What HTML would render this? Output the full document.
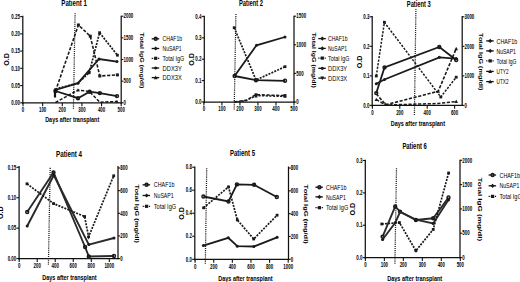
<!DOCTYPE html>
<html><head><meta charset="utf-8"><style>
html,body{margin:0;padding:0;background:#fff;}
svg{display:block;font-family:"Liberation Sans", sans-serif;}
</style></head><body>
<svg width="520" height="282" viewBox="0 0 520 282">
<rect width="520" height="282" fill="#fff"/>
<line x1="22.8" y1="15.8" x2="22.8" y2="104.0" stroke="#111" stroke-width="1.25" stroke-linecap="butt"/>
<line x1="20.2" y1="102.8" x2="22.8" y2="102.8" stroke="#111" stroke-width="1.1" stroke-linecap="butt"/>
<text x="20.0" y="105.0" font-size="6.6" text-anchor="end" font-weight="bold" fill="#000" textLength="8.65" lengthAdjust="spacingAndGlyphs" >0.00</text>
<line x1="20.2" y1="85.56" x2="22.8" y2="85.56" stroke="#111" stroke-width="1.1" stroke-linecap="butt"/>
<text x="20.0" y="87.76" font-size="6.6" text-anchor="end" font-weight="bold" fill="#000" textLength="8.65" lengthAdjust="spacingAndGlyphs" >0.05</text>
<line x1="20.2" y1="68.32" x2="22.8" y2="68.32" stroke="#111" stroke-width="1.1" stroke-linecap="butt"/>
<text x="20.0" y="70.52" font-size="6.6" text-anchor="end" font-weight="bold" fill="#000" textLength="8.65" lengthAdjust="spacingAndGlyphs" >0.10</text>
<line x1="20.2" y1="51.08" x2="22.8" y2="51.08" stroke="#111" stroke-width="1.1" stroke-linecap="butt"/>
<text x="20.0" y="53.28" font-size="6.6" text-anchor="end" font-weight="bold" fill="#000" textLength="8.65" lengthAdjust="spacingAndGlyphs" >0.15</text>
<line x1="20.2" y1="33.84" x2="22.8" y2="33.84" stroke="#111" stroke-width="1.1" stroke-linecap="butt"/>
<text x="20.0" y="36.04" font-size="6.6" text-anchor="end" font-weight="bold" fill="#000" textLength="8.65" lengthAdjust="spacingAndGlyphs" >0.20</text>
<line x1="20.2" y1="16.6" x2="22.8" y2="16.6" stroke="#111" stroke-width="1.1" stroke-linecap="butt"/>
<text x="20.0" y="18.8" font-size="6.6" text-anchor="end" font-weight="bold" fill="#000" textLength="8.65" lengthAdjust="spacingAndGlyphs" >0.25</text>
<line x1="22.2" y1="102.8" x2="121.8" y2="102.8" stroke="#111" stroke-width="1.25" stroke-linecap="butt"/>
<line x1="23.0" y1="102.8" x2="23.0" y2="106.2" stroke="#111" stroke-width="1.1" stroke-linecap="butt"/>
<text x="23.0" y="112.0" font-size="6.6" text-anchor="middle" font-weight="bold" fill="#000" textLength="2.45" lengthAdjust="spacingAndGlyphs" >0</text>
<line x1="42.64" y1="102.8" x2="42.64" y2="106.2" stroke="#111" stroke-width="1.1" stroke-linecap="butt"/>
<text x="42.64" y="112.0" font-size="6.6" text-anchor="middle" font-weight="bold" fill="#000" textLength="7.35" lengthAdjust="spacingAndGlyphs" >100</text>
<line x1="62.28" y1="102.8" x2="62.28" y2="106.2" stroke="#111" stroke-width="1.1" stroke-linecap="butt"/>
<text x="62.28" y="112.0" font-size="6.6" text-anchor="middle" font-weight="bold" fill="#000" textLength="7.35" lengthAdjust="spacingAndGlyphs" >200</text>
<line x1="81.92" y1="102.8" x2="81.92" y2="106.2" stroke="#111" stroke-width="1.1" stroke-linecap="butt"/>
<text x="81.92" y="112.0" font-size="6.6" text-anchor="middle" font-weight="bold" fill="#000" textLength="7.35" lengthAdjust="spacingAndGlyphs" >300</text>
<line x1="101.56" y1="102.8" x2="101.56" y2="106.2" stroke="#111" stroke-width="1.1" stroke-linecap="butt"/>
<text x="101.56" y="112.0" font-size="6.6" text-anchor="middle" font-weight="bold" fill="#000" textLength="7.35" lengthAdjust="spacingAndGlyphs" >400</text>
<line x1="121.2" y1="102.8" x2="121.2" y2="106.2" stroke="#111" stroke-width="1.1" stroke-linecap="butt"/>
<text x="121.2" y="112.0" font-size="6.6" text-anchor="middle" font-weight="bold" fill="#000" textLength="7.35" lengthAdjust="spacingAndGlyphs" >500</text>
<line x1="121.2" y1="15.8" x2="121.2" y2="103.4" stroke="#111" stroke-width="1.25" stroke-linecap="butt"/>
<line x1="121.2" y1="102.8" x2="123.4" y2="102.8" stroke="#111" stroke-width="1.1" stroke-linecap="butt"/>
<text x="123.5" y="105.0" font-size="6.6" text-anchor="start" font-weight="bold" fill="#000" textLength="2.45" lengthAdjust="spacingAndGlyphs" >0</text>
<line x1="121.2" y1="81.15" x2="123.4" y2="81.15" stroke="#111" stroke-width="1.1" stroke-linecap="butt"/>
<text x="123.5" y="83.35" font-size="6.6" text-anchor="start" font-weight="bold" fill="#000" textLength="7.35" lengthAdjust="spacingAndGlyphs" >500</text>
<line x1="121.2" y1="59.5" x2="123.4" y2="59.5" stroke="#111" stroke-width="1.1" stroke-linecap="butt"/>
<text x="123.5" y="61.7" font-size="6.6" text-anchor="start" font-weight="bold" fill="#000" textLength="9.8" lengthAdjust="spacingAndGlyphs" >1000</text>
<line x1="121.2" y1="37.85" x2="123.4" y2="37.85" stroke="#111" stroke-width="1.1" stroke-linecap="butt"/>
<text x="123.5" y="40.05" font-size="6.6" text-anchor="start" font-weight="bold" fill="#000" textLength="9.8" lengthAdjust="spacingAndGlyphs" >1500</text>
<line x1="121.2" y1="16.2" x2="123.4" y2="16.2" stroke="#111" stroke-width="1.1" stroke-linecap="butt"/>
<text x="123.5" y="18.4" font-size="6.6" text-anchor="start" font-weight="bold" fill="#000" textLength="9.8" lengthAdjust="spacingAndGlyphs" >2000</text>
<line x1="75.1" y1="13.2" x2="73.4" y2="109.3" stroke="#1a1a1a" stroke-width="1.25" stroke-linecap="butt" stroke-dasharray="1.1 1"/>
<text x="74.1" y="5.5" font-size="8.2" text-anchor="middle" font-weight="bold" fill="#000" textLength="25.5" lengthAdjust="spacingAndGlyphs" >Patient 1</text>
<text x="72.2" y="122.2" font-size="7.6" text-anchor="middle" font-weight="bold" fill="#000" textLength="54" lengthAdjust="spacingAndGlyphs" >Days after transplant</text>
<text x="9.2" y="59.5" font-size="7" text-anchor="middle" font-weight="bold" fill="#000" textLength="12.6" lengthAdjust="spacingAndGlyphs" transform="rotate(-90 9.2 59.5)" >O.D</text>
<text x="140.4" y="60.5" font-size="5.7" text-anchor="middle" font-weight="bold" fill="#000" textLength="55.8" lengthAdjust="spacingAndGlyphs" transform="rotate(90 140.4 60.5)" >Total IgG (mg/dl)</text>
<line x1="151.7" y1="38.8" x2="159.2" y2="38.8" stroke="#111" stroke-width="1.3" stroke-linecap="butt"/>
<circle cx="155.7" cy="38.8" r="1.45" fill="none" stroke="#1a1a1a" stroke-width="1.5"/>
<text x="162.6" y="41.4" font-size="7.8" text-anchor="start" font-weight="normal" fill="#000" textLength="19.5" lengthAdjust="spacingAndGlyphs" >CHAF1b</text>
<line x1="151.7" y1="48.5" x2="159.2" y2="48.5" stroke="#111" stroke-width="1.3" stroke-linecap="butt"/>
<polygon points="155.7,46.42 157.78,48.5 155.7,50.58 153.61999999999998,48.5" fill="#1a1a1a"/>
<text x="162.6" y="51.1" font-size="7.8" text-anchor="start" font-weight="normal" fill="#000" textLength="19" lengthAdjust="spacingAndGlyphs" >NuSAP1</text>
<line x1="151.7" y1="58.3" x2="159.2" y2="58.3" stroke="#111" stroke-width="1.3" stroke-linecap="butt" stroke-dasharray="1.2 0.9"/>
<rect x="154.1" y="56.699999999999996" width="3.2" height="3.2" fill="#1a1a1a"/>
<text x="162.6" y="60.9" font-size="7.8" text-anchor="start" font-weight="normal" fill="#000" textLength="21.5" lengthAdjust="spacingAndGlyphs" >Total IgG</text>
<line x1="151.7" y1="68" x2="159.2" y2="68" stroke="#111" stroke-width="1.3" stroke-linecap="butt"/>
<circle cx="155.7" cy="68" r="1.6" fill="#1a1a1a"/>
<text x="162.6" y="70.6" font-size="7.8" text-anchor="start" font-weight="normal" fill="#000" textLength="19.2" lengthAdjust="spacingAndGlyphs" >DDX3Y</text>
<line x1="151.7" y1="77.6" x2="159.2" y2="77.6" stroke="#111" stroke-width="1.3" stroke-linecap="butt"/>
<polygon points="155.7,75.52 157.61999999999998,79.19999999999999 153.78,79.19999999999999" fill="#1a1a1a"/>
<text x="162.6" y="80.2" font-size="7.8" text-anchor="start" font-weight="normal" fill="#000" textLength="19.2" lengthAdjust="spacingAndGlyphs" >DDX3X</text>
<polyline points="55.5,91 78,98.2 89.6,91.7 99.8,93.1 117,96.1" fill="none" stroke="#1a1a1a" stroke-width="1.8" stroke-linejoin="miter"/>
<circle cx="55.5" cy="91" r="1.45" fill="none" stroke="#1a1a1a" stroke-width="1.5"/>
<circle cx="78" cy="98.2" r="1.45" fill="none" stroke="#1a1a1a" stroke-width="1.5"/>
<circle cx="89.6" cy="91.7" r="1.45" fill="none" stroke="#1a1a1a" stroke-width="1.5"/>
<circle cx="99.8" cy="93.1" r="1.45" fill="none" stroke="#1a1a1a" stroke-width="1.5"/>
<circle cx="117" cy="96.1" r="1.45" fill="none" stroke="#1a1a1a" stroke-width="1.5"/>
<polyline points="55.5,90 78,83.2 99,59 117,61.6" fill="none" stroke="#1a1a1a" stroke-width="1.8" stroke-linejoin="miter"/>
<circle cx="78" cy="83.2" r="1.5" fill="#1a1a1a"/>
<circle cx="99" cy="59" r="1.5" fill="#1a1a1a"/>
<circle cx="117" cy="61.6" r="1.5" fill="#1a1a1a"/>
<polyline points="55.5,89 78,83 89.2,72.7 99.6,32.7 117.4,55.2" fill="none" stroke="#1a1a1a" stroke-width="1.7" stroke-linejoin="miter" stroke-dasharray="2 1.2"/>
<rect x="87.8" y="71.3" width="2.8" height="2.8" fill="#1a1a1a"/>
<rect x="98.19999999999999" y="31.300000000000004" width="2.8" height="2.8" fill="#1a1a1a"/>
<rect x="116.0" y="53.800000000000004" width="2.8" height="2.8" fill="#1a1a1a"/>
<polyline points="55.5,91 78.4,25 90.3,36.2 99.8,76 117.4,74.9" fill="none" stroke="#1a1a1a" stroke-width="1.6" stroke-linejoin="miter" stroke-dasharray="3.2 1.6"/>
<rect x="76.9" y="23.5" width="3.0" height="3.0" fill="#1a1a1a"/>
<rect x="88.8" y="34.7" width="3.0" height="3.0" fill="#1a1a1a"/>
<rect x="98.3" y="74.5" width="3.0" height="3.0" fill="#1a1a1a"/>
<rect x="115.9" y="73.4" width="3.0" height="3.0" fill="#1a1a1a"/>
<polyline points="55.5,102.5 78,90 89.4,91.5 99.8,102.2 117,101.5" fill="none" stroke="#1a1a1a" stroke-width="1.5" stroke-linejoin="miter" stroke-dasharray="3.2 1.6"/>
<polygon points="78,88.18 79.68,91.4 76.32,91.4" fill="#1a1a1a"/>
<polygon points="117,99.68 118.68,102.9 115.32,102.9" fill="#1a1a1a"/>
<line x1="55" y1="88.5" x2="55" y2="97.5" stroke="#111" stroke-width="2.2" stroke-linecap="butt"/>
<line x1="204.3" y1="15.7" x2="204.3" y2="103.2" stroke="#111" stroke-width="1.25" stroke-linecap="butt"/>
<line x1="201.7" y1="102.0" x2="204.3" y2="102.0" stroke="#111" stroke-width="1.1" stroke-linecap="butt"/>
<text x="201.5" y="104.2" font-size="6.6" text-anchor="end" font-weight="bold" fill="#000" textLength="6.2" lengthAdjust="spacingAndGlyphs" >0.0</text>
<line x1="201.7" y1="80.6" x2="204.3" y2="80.6" stroke="#111" stroke-width="1.1" stroke-linecap="butt"/>
<text x="201.5" y="82.8" font-size="6.6" text-anchor="end" font-weight="bold" fill="#000" textLength="6.2" lengthAdjust="spacingAndGlyphs" >0.1</text>
<line x1="201.7" y1="59.2" x2="204.3" y2="59.2" stroke="#111" stroke-width="1.1" stroke-linecap="butt"/>
<text x="201.5" y="61.4" font-size="6.6" text-anchor="end" font-weight="bold" fill="#000" textLength="6.2" lengthAdjust="spacingAndGlyphs" >0.2</text>
<line x1="201.7" y1="37.8" x2="204.3" y2="37.8" stroke="#111" stroke-width="1.1" stroke-linecap="butt"/>
<text x="201.5" y="40.0" font-size="6.6" text-anchor="end" font-weight="bold" fill="#000" textLength="6.2" lengthAdjust="spacingAndGlyphs" >0.3</text>
<line x1="201.7" y1="16.4" x2="204.3" y2="16.4" stroke="#111" stroke-width="1.1" stroke-linecap="butt"/>
<text x="201.5" y="18.6" font-size="6.6" text-anchor="end" font-weight="bold" fill="#000" textLength="6.2" lengthAdjust="spacingAndGlyphs" >0.4</text>
<line x1="203.7" y1="102" x2="294.6" y2="102" stroke="#111" stroke-width="1.25" stroke-linecap="butt"/>
<line x1="203.9" y1="102" x2="203.9" y2="105.4" stroke="#111" stroke-width="1.1" stroke-linecap="butt"/>
<text x="203.9" y="111.2" font-size="6.6" text-anchor="middle" font-weight="bold" fill="#000" textLength="2.45" lengthAdjust="spacingAndGlyphs" >0</text>
<line x1="221.92" y1="102" x2="221.92" y2="105.4" stroke="#111" stroke-width="1.1" stroke-linecap="butt"/>
<text x="221.92" y="111.2" font-size="6.6" text-anchor="middle" font-weight="bold" fill="#000" textLength="7.35" lengthAdjust="spacingAndGlyphs" >100</text>
<line x1="239.94" y1="102" x2="239.94" y2="105.4" stroke="#111" stroke-width="1.1" stroke-linecap="butt"/>
<text x="239.94" y="111.2" font-size="6.6" text-anchor="middle" font-weight="bold" fill="#000" textLength="7.35" lengthAdjust="spacingAndGlyphs" >200</text>
<line x1="257.96" y1="102" x2="257.96" y2="105.4" stroke="#111" stroke-width="1.1" stroke-linecap="butt"/>
<text x="257.96" y="111.2" font-size="6.6" text-anchor="middle" font-weight="bold" fill="#000" textLength="7.35" lengthAdjust="spacingAndGlyphs" >300</text>
<line x1="275.98" y1="102" x2="275.98" y2="105.4" stroke="#111" stroke-width="1.1" stroke-linecap="butt"/>
<text x="275.98" y="111.2" font-size="6.6" text-anchor="middle" font-weight="bold" fill="#000" textLength="7.35" lengthAdjust="spacingAndGlyphs" >400</text>
<line x1="294.0" y1="102" x2="294.0" y2="105.4" stroke="#111" stroke-width="1.1" stroke-linecap="butt"/>
<text x="294.0" y="111.2" font-size="6.6" text-anchor="middle" font-weight="bold" fill="#000" textLength="7.35" lengthAdjust="spacingAndGlyphs" >500</text>
<line x1="294" y1="15.7" x2="294" y2="102.6" stroke="#111" stroke-width="1.25" stroke-linecap="butt"/>
<line x1="294" y1="102.0" x2="296.2" y2="102.0" stroke="#111" stroke-width="1.1" stroke-linecap="butt"/>
<text x="296.3" y="104.2" font-size="6.6" text-anchor="start" font-weight="bold" fill="#000" textLength="2.45" lengthAdjust="spacingAndGlyphs" >0</text>
<line x1="294" y1="73.4" x2="296.2" y2="73.4" stroke="#111" stroke-width="1.1" stroke-linecap="butt"/>
<text x="296.3" y="75.6" font-size="6.6" text-anchor="start" font-weight="bold" fill="#000" textLength="7.35" lengthAdjust="spacingAndGlyphs" >500</text>
<line x1="294" y1="44.8" x2="296.2" y2="44.8" stroke="#111" stroke-width="1.1" stroke-linecap="butt"/>
<text x="296.3" y="47.0" font-size="6.6" text-anchor="start" font-weight="bold" fill="#000" textLength="9.8" lengthAdjust="spacingAndGlyphs" >1000</text>
<line x1="294" y1="16.2" x2="296.2" y2="16.2" stroke="#111" stroke-width="1.1" stroke-linecap="butt"/>
<text x="296.3" y="18.4" font-size="6.6" text-anchor="start" font-weight="bold" fill="#000" textLength="9.8" lengthAdjust="spacingAndGlyphs" >1500</text>
<line x1="235.9" y1="14" x2="234.2" y2="110" stroke="#1a1a1a" stroke-width="1.25" stroke-linecap="butt" stroke-dasharray="1.1 1"/>
<text x="251" y="6.0" font-size="8.2" text-anchor="middle" font-weight="bold" fill="#000" textLength="24" lengthAdjust="spacingAndGlyphs" >Patient 2</text>
<text x="193.8" y="59.5" font-size="7" text-anchor="middle" font-weight="bold" fill="#000" textLength="12.6" lengthAdjust="spacingAndGlyphs" transform="rotate(-90 193.8 59.5)" >O.D</text>
<text x="312.2" y="60.25" font-size="5.7" text-anchor="middle" font-weight="bold" fill="#000" textLength="55.3" lengthAdjust="spacingAndGlyphs" transform="rotate(90 312.2 60.25)" >Total IgG (mg/dl)</text>
<line x1="318.3" y1="38.6" x2="325.8" y2="38.6" stroke="#111" stroke-width="1.3" stroke-linecap="butt"/>
<polygon points="322.3,36.52 324.38,38.6 322.3,40.68 320.22,38.6" fill="#1a1a1a"/>
<text x="328" y="41.2" font-size="7.8" text-anchor="start" font-weight="normal" fill="#000" textLength="19.5" lengthAdjust="spacingAndGlyphs" >CHAF1b</text>
<line x1="318.3" y1="48.4" x2="325.8" y2="48.4" stroke="#111" stroke-width="1.3" stroke-linecap="butt"/>
<polygon points="322.3,46.32 324.38,48.4 322.3,50.48 320.22,48.4" fill="#1a1a1a"/>
<text x="328" y="51.0" font-size="7.8" text-anchor="start" font-weight="normal" fill="#000" textLength="19" lengthAdjust="spacingAndGlyphs" >NuSAP1</text>
<line x1="318.3" y1="58.1" x2="325.8" y2="58.1" stroke="#111" stroke-width="1.3" stroke-linecap="butt" stroke-dasharray="1.2 0.9"/>
<rect x="320.7" y="56.5" width="3.2" height="3.2" fill="#1a1a1a"/>
<text x="328" y="60.7" font-size="7.8" text-anchor="start" font-weight="normal" fill="#000" textLength="21.5" lengthAdjust="spacingAndGlyphs" >Total IgG</text>
<line x1="318.3" y1="68.3" x2="325.8" y2="68.3" stroke="#111" stroke-width="1.3" stroke-linecap="butt"/>
<circle cx="322.3" cy="68.3" r="1.6" fill="#1a1a1a"/>
<text x="328" y="70.9" font-size="7.8" text-anchor="start" font-weight="normal" fill="#000" textLength="19.2" lengthAdjust="spacingAndGlyphs" >DDX3Y</text>
<line x1="318.3" y1="78.1" x2="325.8" y2="78.1" stroke="#111" stroke-width="1.3" stroke-linecap="butt"/>
<polygon points="322.3,80.17999999999999 324.22,76.5 320.38,76.5" fill="#1a1a1a"/>
<text x="328" y="80.7" font-size="7.8" text-anchor="start" font-weight="normal" fill="#000" textLength="19.2" lengthAdjust="spacingAndGlyphs" >DDX3X</text>
<polyline points="234.6,76 256,80.2 285,80.8" fill="none" stroke="#1a1a1a" stroke-width="1.8" stroke-linejoin="miter"/>
<circle cx="234.6" cy="76" r="1.45" fill="none" stroke="#1a1a1a" stroke-width="1.5"/>
<circle cx="256" cy="80.2" r="1.45" fill="none" stroke="#1a1a1a" stroke-width="1.5"/>
<circle cx="285" cy="80.8" r="1.45" fill="none" stroke="#1a1a1a" stroke-width="1.5"/>
<polyline points="234.6,76 256.5,45.3 285,37" fill="none" stroke="#1a1a1a" stroke-width="1.8" stroke-linejoin="miter"/>
<circle cx="256.5" cy="45.3" r="1.5" fill="#1a1a1a"/>
<circle cx="285" cy="37" r="1.5" fill="#1a1a1a"/>
<polyline points="234.2,27.7 256,80 285,66.7" fill="none" stroke="#1a1a1a" stroke-width="1.7" stroke-linejoin="miter" stroke-dasharray="2 1.2"/>
<rect x="232.79999999999998" y="26.3" width="2.8" height="2.8" fill="#1a1a1a"/>
<rect x="283.6" y="65.3" width="2.8" height="2.8" fill="#1a1a1a"/>
<polyline points="234.6,102 246,100.3 256,94.6 285,95.6" fill="none" stroke="#1a1a1a" stroke-width="1.5" stroke-linejoin="miter" stroke-dasharray="3.2 1.6"/>
<polyline points="234.6,102 246,100.8 256,95.6 285,96.4" fill="none" stroke="#1a1a1a" stroke-width="1.5" stroke-linejoin="miter" stroke-dasharray="2.2 1.4"/>
<rect x="254.5" y="93.3" width="3.0" height="3.0" fill="#1a1a1a"/>
<rect x="283.5" y="94.1" width="3.0" height="3.0" fill="#1a1a1a"/>
<polygon points="256,94.18 257.68,97.4 254.32,97.4" fill="#1a1a1a"/>
<polygon points="285,94.58000000000001 286.68,97.80000000000001 283.32,97.80000000000001" fill="#1a1a1a"/>
<line x1="372.2" y1="16.1" x2="372.2" y2="106.6" stroke="#111" stroke-width="1.25" stroke-linecap="butt"/>
<line x1="369.6" y1="105.4" x2="372.2" y2="105.4" stroke="#111" stroke-width="1.1" stroke-linecap="butt"/>
<text x="369.4" y="107.6" font-size="6.6" text-anchor="end" font-weight="bold" fill="#000" textLength="6.2" lengthAdjust="spacingAndGlyphs" >0.0</text>
<line x1="369.6" y1="75.87" x2="372.2" y2="75.87" stroke="#111" stroke-width="1.1" stroke-linecap="butt"/>
<text x="369.4" y="78.07" font-size="6.6" text-anchor="end" font-weight="bold" fill="#000" textLength="6.2" lengthAdjust="spacingAndGlyphs" >0.1</text>
<line x1="369.6" y1="46.33" x2="372.2" y2="46.33" stroke="#111" stroke-width="1.1" stroke-linecap="butt"/>
<text x="369.4" y="48.53" font-size="6.6" text-anchor="end" font-weight="bold" fill="#000" textLength="6.2" lengthAdjust="spacingAndGlyphs" >0.2</text>
<line x1="369.6" y1="16.8" x2="372.2" y2="16.8" stroke="#111" stroke-width="1.1" stroke-linecap="butt"/>
<text x="369.4" y="19.0" font-size="6.6" text-anchor="end" font-weight="bold" fill="#000" textLength="6.2" lengthAdjust="spacingAndGlyphs" >0.3</text>
<line x1="371.6" y1="105.4" x2="462.8" y2="105.4" stroke="#111" stroke-width="1.25" stroke-linecap="butt"/>
<line x1="372.4" y1="105.4" x2="372.4" y2="108.8" stroke="#111" stroke-width="1.1" stroke-linecap="butt"/>
<text x="372.4" y="114.6" font-size="6.6" text-anchor="middle" font-weight="bold" fill="#000" textLength="2.45" lengthAdjust="spacingAndGlyphs" >0</text>
<line x1="399.8" y1="105.4" x2="399.8" y2="108.8" stroke="#111" stroke-width="1.1" stroke-linecap="butt"/>
<text x="399.8" y="114.6" font-size="6.6" text-anchor="middle" font-weight="bold" fill="#000" textLength="7.35" lengthAdjust="spacingAndGlyphs" >200</text>
<line x1="427.2" y1="105.4" x2="427.2" y2="108.8" stroke="#111" stroke-width="1.1" stroke-linecap="butt"/>
<text x="427.2" y="114.6" font-size="6.6" text-anchor="middle" font-weight="bold" fill="#000" textLength="7.35" lengthAdjust="spacingAndGlyphs" >400</text>
<line x1="454.6" y1="105.4" x2="454.6" y2="108.8" stroke="#111" stroke-width="1.1" stroke-linecap="butt"/>
<text x="454.6" y="114.6" font-size="6.6" text-anchor="middle" font-weight="bold" fill="#000" textLength="7.35" lengthAdjust="spacingAndGlyphs" >600</text>
<line x1="462.2" y1="16.1" x2="462.2" y2="106.0" stroke="#111" stroke-width="1.25" stroke-linecap="butt"/>
<line x1="462.2" y1="105.4" x2="464.4" y2="105.4" stroke="#111" stroke-width="1.1" stroke-linecap="butt"/>
<text x="464.5" y="107.6" font-size="6.6" text-anchor="start" font-weight="bold" fill="#000" textLength="2.45" lengthAdjust="spacingAndGlyphs" >0</text>
<line x1="462.2" y1="75.87" x2="464.4" y2="75.87" stroke="#111" stroke-width="1.1" stroke-linecap="butt"/>
<text x="464.5" y="78.07" font-size="6.6" text-anchor="start" font-weight="bold" fill="#000" textLength="9.8" lengthAdjust="spacingAndGlyphs" >1000</text>
<line x1="462.2" y1="46.33" x2="464.4" y2="46.33" stroke="#111" stroke-width="1.1" stroke-linecap="butt"/>
<text x="464.5" y="48.53" font-size="6.6" text-anchor="start" font-weight="bold" fill="#000" textLength="9.8" lengthAdjust="spacingAndGlyphs" >2000</text>
<line x1="462.2" y1="16.8" x2="464.4" y2="16.8" stroke="#111" stroke-width="1.1" stroke-linecap="butt"/>
<text x="464.5" y="19.0" font-size="6.6" text-anchor="start" font-weight="bold" fill="#000" textLength="9.8" lengthAdjust="spacingAndGlyphs" >3000</text>
<line x1="415.9" y1="8.9" x2="414.4" y2="115.4" stroke="#1a1a1a" stroke-width="1.25" stroke-linecap="butt" stroke-dasharray="1.1 1"/>
<text x="418.8" y="6.8" font-size="8.2" text-anchor="middle" font-weight="bold" fill="#000" textLength="24" lengthAdjust="spacingAndGlyphs" >Patient 3</text>
<text x="417.9" y="126" font-size="7.6" text-anchor="middle" font-weight="bold" fill="#000" textLength="54.2" lengthAdjust="spacingAndGlyphs" >Days after transplant</text>
<text x="361.6" y="62" font-size="7" text-anchor="middle" font-weight="bold" fill="#000" textLength="12.6" lengthAdjust="spacingAndGlyphs" transform="rotate(-90 361.6 62)" >O.D</text>
<text x="479.2" y="61.7" font-size="5.7" text-anchor="middle" font-weight="bold" fill="#000" textLength="57.4" lengthAdjust="spacingAndGlyphs" transform="rotate(90 479.2 61.7)" >Total IgG (mg/dl)</text>
<line x1="486.2" y1="40.9" x2="493.7" y2="40.9" stroke="#111" stroke-width="1.3" stroke-linecap="butt"/>
<polygon points="490.2,38.82 492.28,40.9 490.2,42.98 488.12,40.9" fill="#1a1a1a"/>
<text x="496.5" y="43.5" font-size="7.8" text-anchor="start" font-weight="normal" fill="#000" textLength="20.8" lengthAdjust="spacingAndGlyphs" >CHAF1b</text>
<line x1="486.2" y1="50.9" x2="493.7" y2="50.9" stroke="#111" stroke-width="1.3" stroke-linecap="butt"/>
<polygon points="490.2,48.82 492.28,50.9 490.2,52.98 488.12,50.9" fill="#1a1a1a"/>
<text x="496.5" y="53.5" font-size="7.8" text-anchor="start" font-weight="normal" fill="#000" textLength="19.3" lengthAdjust="spacingAndGlyphs" >NuSAP1</text>
<line x1="486.2" y1="60.9" x2="493.7" y2="60.9" stroke="#111" stroke-width="1.3" stroke-linecap="butt" stroke-dasharray="1.2 0.9"/>
<rect x="488.59999999999997" y="59.3" width="3.2" height="3.2" fill="#1a1a1a"/>
<text x="496.5" y="63.5" font-size="7.8" text-anchor="start" font-weight="normal" fill="#000" textLength="20" lengthAdjust="spacingAndGlyphs" >Total IgG</text>
<line x1="486.2" y1="71.4" x2="493.7" y2="71.4" stroke="#111" stroke-width="1.3" stroke-linecap="butt"/>
<polygon points="490.2,69.32000000000001 492.12,73.0 488.28,73.0" fill="#1a1a1a"/>
<text x="496.5" y="74.0" font-size="7.8" text-anchor="start" font-weight="normal" fill="#000" textLength="12" lengthAdjust="spacingAndGlyphs" >UTY2</text>
<line x1="486.2" y1="81.6" x2="493.7" y2="81.6" stroke="#111" stroke-width="1.3" stroke-linecap="butt"/>
<polygon points="490.2,79.52 492.12,83.19999999999999 488.28,83.19999999999999" fill="#1a1a1a"/>
<text x="496.5" y="84.2" font-size="7.8" text-anchor="start" font-weight="normal" fill="#000" textLength="12" lengthAdjust="spacingAndGlyphs" >UTX2</text>
<polyline points="376.3,93.1 384.5,67.4 439.3,47 456.2,60" fill="none" stroke="#1a1a1a" stroke-width="1.8" stroke-linejoin="miter"/>
<circle cx="376.3" cy="93.1" r="1.45" fill="none" stroke="#1a1a1a" stroke-width="1.5"/>
<circle cx="384.5" cy="67.4" r="1.45" fill="none" stroke="#1a1a1a" stroke-width="1.5"/>
<circle cx="439.3" cy="47" r="1.45" fill="none" stroke="#1a1a1a" stroke-width="1.5"/>
<circle cx="456.2" cy="60" r="1.45" fill="none" stroke="#1a1a1a" stroke-width="1.5"/>
<polyline points="376.3,83.8 384.5,79.5 439.3,57.3 456.2,58.6" fill="none" stroke="#1a1a1a" stroke-width="1.8" stroke-linejoin="miter"/>
<circle cx="376.3" cy="83.8" r="1.5" fill="#1a1a1a"/>
<circle cx="384.5" cy="79.5" r="1.5" fill="#1a1a1a"/>
<circle cx="439.3" cy="57.3" r="1.5" fill="#1a1a1a"/>
<circle cx="456.2" cy="58.6" r="1.5" fill="#1a1a1a"/>
<polyline points="376.3,76 384.4,22.3 440.8,97 456.2,77.2" fill="none" stroke="#1a1a1a" stroke-width="1.5" stroke-linejoin="miter" stroke-dasharray="2.2 1.4"/>
<rect x="374.90000000000003" y="74.6" width="2.8" height="2.8" fill="#1a1a1a"/>
<rect x="383.0" y="20.900000000000002" width="2.8" height="2.8" fill="#1a1a1a"/>
<rect x="439.40000000000003" y="95.6" width="2.8" height="2.8" fill="#1a1a1a"/>
<rect x="454.8" y="75.8" width="2.8" height="2.8" fill="#1a1a1a"/>
<polyline points="376.3,93.8 385.7,104.8 438.2,91.3 456.2,48.7" fill="none" stroke="#1a1a1a" stroke-width="1.6" stroke-linejoin="miter" stroke-dasharray="3.2 1.6"/>
<polyline points="376.3,99.6 385.7,105 438.2,103.5 456.2,101.5" fill="none" stroke="#1a1a1a" stroke-width="1.5" stroke-linejoin="miter" stroke-dasharray="3.2 1.6"/>
<polygon points="376.3,97.64999999999999 378.1,101.1 374.5,101.1" fill="#1a1a1a"/>
<polygon points="385.7,102.25 387.5,105.7 383.9,105.7" fill="#1a1a1a"/>
<polygon points="438.2,89.35 440.0,92.8 436.4,92.8" fill="#1a1a1a"/>
<polygon points="456.2,46.75 458.0,50.2 454.4,50.2" fill="#1a1a1a"/>
<polygon points="456.2,99.55 458.0,103.0 454.4,103.0" fill="#1a1a1a"/>
<line x1="19.1" y1="166.1" x2="19.1" y2="259.8" stroke="#111" stroke-width="1.25" stroke-linecap="butt"/>
<line x1="16.5" y1="258.6" x2="19.1" y2="258.6" stroke="#111" stroke-width="1.1" stroke-linecap="butt"/>
<text x="16.3" y="260.8" font-size="6.6" text-anchor="end" font-weight="bold" fill="#000" textLength="8.65" lengthAdjust="spacingAndGlyphs" >0.00</text>
<line x1="16.5" y1="228.17" x2="19.1" y2="228.17" stroke="#111" stroke-width="1.1" stroke-linecap="butt"/>
<text x="16.3" y="230.37" font-size="6.6" text-anchor="end" font-weight="bold" fill="#000" textLength="8.65" lengthAdjust="spacingAndGlyphs" >0.05</text>
<line x1="16.5" y1="197.73" x2="19.1" y2="197.73" stroke="#111" stroke-width="1.1" stroke-linecap="butt"/>
<text x="16.3" y="199.93" font-size="6.6" text-anchor="end" font-weight="bold" fill="#000" textLength="8.65" lengthAdjust="spacingAndGlyphs" >0.10</text>
<line x1="16.5" y1="167.3" x2="19.1" y2="167.3" stroke="#111" stroke-width="1.1" stroke-linecap="butt"/>
<text x="16.3" y="169.5" font-size="6.6" text-anchor="end" font-weight="bold" fill="#000" textLength="8.65" lengthAdjust="spacingAndGlyphs" >0.15</text>
<line x1="18.5" y1="258.6" x2="118.6" y2="258.6" stroke="#111" stroke-width="1.25" stroke-linecap="butt"/>
<line x1="19.2" y1="258.6" x2="19.2" y2="262.0" stroke="#111" stroke-width="1.1" stroke-linecap="butt"/>
<text x="19.2" y="267.8" font-size="6.6" text-anchor="middle" font-weight="bold" fill="#000" textLength="2.45" lengthAdjust="spacingAndGlyphs" >0</text>
<line x1="37.22" y1="258.6" x2="37.22" y2="262.0" stroke="#111" stroke-width="1.1" stroke-linecap="butt"/>
<text x="37.22" y="267.8" font-size="6.6" text-anchor="middle" font-weight="bold" fill="#000" textLength="7.35" lengthAdjust="spacingAndGlyphs" >200</text>
<line x1="55.24" y1="258.6" x2="55.24" y2="262.0" stroke="#111" stroke-width="1.1" stroke-linecap="butt"/>
<text x="55.24" y="267.8" font-size="6.6" text-anchor="middle" font-weight="bold" fill="#000" textLength="7.35" lengthAdjust="spacingAndGlyphs" >400</text>
<line x1="73.26" y1="258.6" x2="73.26" y2="262.0" stroke="#111" stroke-width="1.1" stroke-linecap="butt"/>
<text x="73.26" y="267.8" font-size="6.6" text-anchor="middle" font-weight="bold" fill="#000" textLength="7.35" lengthAdjust="spacingAndGlyphs" >600</text>
<line x1="91.28" y1="258.6" x2="91.28" y2="262.0" stroke="#111" stroke-width="1.1" stroke-linecap="butt"/>
<text x="91.28" y="267.8" font-size="6.6" text-anchor="middle" font-weight="bold" fill="#000" textLength="7.35" lengthAdjust="spacingAndGlyphs" >800</text>
<line x1="109.3" y1="258.6" x2="109.3" y2="262.0" stroke="#111" stroke-width="1.1" stroke-linecap="butt"/>
<text x="109.3" y="267.8" font-size="6.6" text-anchor="middle" font-weight="bold" fill="#000" textLength="9.8" lengthAdjust="spacingAndGlyphs" >1000</text>
<line x1="118" y1="166.1" x2="118" y2="259.2" stroke="#111" stroke-width="1.25" stroke-linecap="butt"/>
<line x1="118" y1="258.6" x2="120.2" y2="258.6" stroke="#111" stroke-width="1.1" stroke-linecap="butt"/>
<text x="120.3" y="260.8" font-size="6.6" text-anchor="start" font-weight="bold" fill="#000" textLength="2.45" lengthAdjust="spacingAndGlyphs" >0</text>
<line x1="118" y1="235.95" x2="120.2" y2="235.95" stroke="#111" stroke-width="1.1" stroke-linecap="butt"/>
<text x="120.3" y="238.15" font-size="6.6" text-anchor="start" font-weight="bold" fill="#000" textLength="7.35" lengthAdjust="spacingAndGlyphs" >200</text>
<line x1="118" y1="213.3" x2="120.2" y2="213.3" stroke="#111" stroke-width="1.1" stroke-linecap="butt"/>
<text x="120.3" y="215.5" font-size="6.6" text-anchor="start" font-weight="bold" fill="#000" textLength="7.35" lengthAdjust="spacingAndGlyphs" >400</text>
<line x1="118" y1="190.65" x2="120.2" y2="190.65" stroke="#111" stroke-width="1.1" stroke-linecap="butt"/>
<text x="120.3" y="192.85" font-size="6.6" text-anchor="start" font-weight="bold" fill="#000" textLength="7.35" lengthAdjust="spacingAndGlyphs" >600</text>
<line x1="118" y1="168.0" x2="120.2" y2="168.0" stroke="#111" stroke-width="1.1" stroke-linecap="butt"/>
<text x="120.3" y="170.2" font-size="6.6" text-anchor="start" font-weight="bold" fill="#000" textLength="7.35" lengthAdjust="spacingAndGlyphs" >800</text>
<line x1="50.2" y1="167.8" x2="48.4" y2="265" stroke="#1a1a1a" stroke-width="1.25" stroke-linecap="butt" stroke-dasharray="1.1 1"/>
<text x="69.1" y="156.5" font-size="8.2" text-anchor="middle" font-weight="bold" fill="#000" textLength="26" lengthAdjust="spacingAndGlyphs" >Patient 4</text>
<text x="69.5" y="279.6" font-size="7.6" text-anchor="middle" font-weight="bold" fill="#000" textLength="54.3" lengthAdjust="spacingAndGlyphs" >Days after transplant</text>
<text x="3.4" y="212.8" font-size="7" text-anchor="middle" font-weight="bold" fill="#000" textLength="12.6" lengthAdjust="spacingAndGlyphs" transform="rotate(-90 3.4 212.8)" >O.D</text>
<text x="135.2" y="213.85" font-size="5.7" text-anchor="middle" font-weight="bold" fill="#000" textLength="58.5" lengthAdjust="spacingAndGlyphs" transform="rotate(90 135.2 213.85)" >Total IgG (mg/dl)</text>
<line x1="142.6" y1="184.8" x2="150.1" y2="184.8" stroke="#111" stroke-width="1.3" stroke-linecap="butt"/>
<circle cx="146.6" cy="184.8" r="1.45" fill="none" stroke="#1a1a1a" stroke-width="1.5"/>
<text x="153.8" y="187.4" font-size="7.8" text-anchor="start" font-weight="normal" fill="#000" textLength="20.6" lengthAdjust="spacingAndGlyphs" >CHAF1b</text>
<line x1="142.6" y1="195.5" x2="150.1" y2="195.5" stroke="#111" stroke-width="1.3" stroke-linecap="butt"/>
<polygon points="146.6,193.42 148.68,195.5 146.6,197.58 144.51999999999998,195.5" fill="#1a1a1a"/>
<text x="153.8" y="198.1" font-size="7.8" text-anchor="start" font-weight="normal" fill="#000" textLength="19.8" lengthAdjust="spacingAndGlyphs" >NuSAP1</text>
<line x1="142.6" y1="206.3" x2="150.1" y2="206.3" stroke="#111" stroke-width="1.3" stroke-linecap="butt" stroke-dasharray="1.2 0.9"/>
<rect x="145.0" y="204.70000000000002" width="3.2" height="3.2" fill="#1a1a1a"/>
<text x="153.8" y="208.9" font-size="7.8" text-anchor="start" font-weight="normal" fill="#000" textLength="22.3" lengthAdjust="spacingAndGlyphs" >Total IgG</text>
<polyline points="27.2,212 53.5,172.4 85.1,247 88.8,256.5 114,256" fill="none" stroke="#2a2a2a" stroke-width="1.9" stroke-linejoin="miter"/>
<circle cx="27.2" cy="212" r="1.45" fill="none" stroke="#1a1a1a" stroke-width="1.5"/>
<circle cx="53.5" cy="172.4" r="1.45" fill="none" stroke="#1a1a1a" stroke-width="1.5"/>
<circle cx="85.1" cy="247" r="1.45" fill="none" stroke="#1a1a1a" stroke-width="1.5"/>
<circle cx="88.8" cy="256.5" r="1.45" fill="none" stroke="#1a1a1a" stroke-width="1.5"/>
<circle cx="114" cy="256" r="1.45" fill="none" stroke="#1a1a1a" stroke-width="1.5"/>
<polyline points="27.2,226 53.8,175.2 88.8,244.6 114,238" fill="none" stroke="#2a2a2a" stroke-width="1.9" stroke-linejoin="miter"/>
<circle cx="27.2" cy="226" r="1.5" fill="#1a1a1a"/>
<circle cx="53.8" cy="175.2" r="1.5" fill="#1a1a1a"/>
<circle cx="88.8" cy="244.6" r="1.5" fill="#1a1a1a"/>
<circle cx="114" cy="238" r="1.5" fill="#1a1a1a"/>
<polyline points="27,183.8 53.6,203.6 84.6,216.5 88.6,236.8 113.7,175.8" fill="none" stroke="#1a1a1a" stroke-width="1.7" stroke-linejoin="miter" stroke-dasharray="2 1.2"/>
<rect x="25.6" y="182.4" width="2.8" height="2.8" fill="#1a1a1a"/>
<rect x="52.2" y="202.2" width="2.8" height="2.8" fill="#1a1a1a"/>
<rect x="83.19999999999999" y="215.1" width="2.8" height="2.8" fill="#1a1a1a"/>
<rect x="87.19999999999999" y="235.4" width="2.8" height="2.8" fill="#1a1a1a"/>
<rect x="112.3" y="174.4" width="2.8" height="2.8" fill="#1a1a1a"/>
<line x1="194.8" y1="166.5" x2="194.8" y2="260.5" stroke="#111" stroke-width="1.25" stroke-linecap="butt"/>
<line x1="192.2" y1="259.3" x2="194.8" y2="259.3" stroke="#111" stroke-width="1.1" stroke-linecap="butt"/>
<text x="192.0" y="261.5" font-size="6.6" text-anchor="end" font-weight="bold" fill="#000" textLength="6.2" lengthAdjust="spacingAndGlyphs" >0.0</text>
<line x1="192.2" y1="236.28" x2="194.8" y2="236.28" stroke="#111" stroke-width="1.1" stroke-linecap="butt"/>
<text x="192.0" y="238.47" font-size="6.6" text-anchor="end" font-weight="bold" fill="#000" textLength="6.2" lengthAdjust="spacingAndGlyphs" >0.2</text>
<line x1="192.2" y1="213.25" x2="194.8" y2="213.25" stroke="#111" stroke-width="1.1" stroke-linecap="butt"/>
<text x="192.0" y="215.45" font-size="6.6" text-anchor="end" font-weight="bold" fill="#000" textLength="6.2" lengthAdjust="spacingAndGlyphs" >0.4</text>
<line x1="192.2" y1="190.22" x2="194.8" y2="190.22" stroke="#111" stroke-width="1.1" stroke-linecap="butt"/>
<text x="192.0" y="192.42" font-size="6.6" text-anchor="end" font-weight="bold" fill="#000" textLength="6.2" lengthAdjust="spacingAndGlyphs" >0.6</text>
<line x1="192.2" y1="167.2" x2="194.8" y2="167.2" stroke="#111" stroke-width="1.1" stroke-linecap="butt"/>
<text x="192.0" y="169.4" font-size="6.6" text-anchor="end" font-weight="bold" fill="#000" textLength="6.2" lengthAdjust="spacingAndGlyphs" >0.8</text>
<line x1="194.2" y1="259.3" x2="289.1" y2="259.3" stroke="#111" stroke-width="1.25" stroke-linecap="butt"/>
<line x1="195.1" y1="259.3" x2="195.1" y2="262.7" stroke="#111" stroke-width="1.1" stroke-linecap="butt"/>
<text x="195.1" y="268.5" font-size="6.6" text-anchor="middle" font-weight="bold" fill="#000" textLength="2.45" lengthAdjust="spacingAndGlyphs" >0</text>
<line x1="213.72" y1="259.3" x2="213.72" y2="262.7" stroke="#111" stroke-width="1.1" stroke-linecap="butt"/>
<text x="213.72" y="268.5" font-size="6.6" text-anchor="middle" font-weight="bold" fill="#000" textLength="7.35" lengthAdjust="spacingAndGlyphs" >200</text>
<line x1="232.34" y1="259.3" x2="232.34" y2="262.7" stroke="#111" stroke-width="1.1" stroke-linecap="butt"/>
<text x="232.34" y="268.5" font-size="6.6" text-anchor="middle" font-weight="bold" fill="#000" textLength="7.35" lengthAdjust="spacingAndGlyphs" >400</text>
<line x1="250.96" y1="259.3" x2="250.96" y2="262.7" stroke="#111" stroke-width="1.1" stroke-linecap="butt"/>
<text x="250.96" y="268.5" font-size="6.6" text-anchor="middle" font-weight="bold" fill="#000" textLength="7.35" lengthAdjust="spacingAndGlyphs" >600</text>
<line x1="269.58" y1="259.3" x2="269.58" y2="262.7" stroke="#111" stroke-width="1.1" stroke-linecap="butt"/>
<text x="269.58" y="268.5" font-size="6.6" text-anchor="middle" font-weight="bold" fill="#000" textLength="7.35" lengthAdjust="spacingAndGlyphs" >800</text>
<line x1="288.2" y1="259.3" x2="288.2" y2="262.7" stroke="#111" stroke-width="1.1" stroke-linecap="butt"/>
<text x="288.2" y="268.5" font-size="6.6" text-anchor="middle" font-weight="bold" fill="#000" textLength="9.8" lengthAdjust="spacingAndGlyphs" >1000</text>
<line x1="288.5" y1="166.5" x2="288.5" y2="259.9" stroke="#111" stroke-width="1.25" stroke-linecap="butt"/>
<line x1="288.5" y1="259.3" x2="290.7" y2="259.3" stroke="#111" stroke-width="1.1" stroke-linecap="butt"/>
<text x="290.8" y="261.5" font-size="6.6" text-anchor="start" font-weight="bold" fill="#000" textLength="2.45" lengthAdjust="spacingAndGlyphs" >0</text>
<line x1="288.5" y1="236.48" x2="290.7" y2="236.48" stroke="#111" stroke-width="1.1" stroke-linecap="butt"/>
<text x="290.8" y="238.68" font-size="6.6" text-anchor="start" font-weight="bold" fill="#000" textLength="7.35" lengthAdjust="spacingAndGlyphs" >200</text>
<line x1="288.5" y1="213.65" x2="290.7" y2="213.65" stroke="#111" stroke-width="1.1" stroke-linecap="butt"/>
<text x="290.8" y="215.85" font-size="6.6" text-anchor="start" font-weight="bold" fill="#000" textLength="7.35" lengthAdjust="spacingAndGlyphs" >400</text>
<line x1="288.5" y1="190.82" x2="290.7" y2="190.82" stroke="#111" stroke-width="1.1" stroke-linecap="butt"/>
<text x="290.8" y="193.02" font-size="6.6" text-anchor="start" font-weight="bold" fill="#000" textLength="7.35" lengthAdjust="spacingAndGlyphs" >600</text>
<line x1="288.5" y1="168.0" x2="290.7" y2="168.0" stroke="#111" stroke-width="1.1" stroke-linecap="butt"/>
<text x="290.8" y="170.2" font-size="6.6" text-anchor="start" font-weight="bold" fill="#000" textLength="7.35" lengthAdjust="spacingAndGlyphs" >800</text>
<line x1="206.7" y1="168.2" x2="205.3" y2="264.5" stroke="#1a1a1a" stroke-width="1.25" stroke-linecap="butt" stroke-dasharray="1.1 1"/>
<text x="242.5" y="156.2" font-size="8.2" text-anchor="middle" font-weight="bold" fill="#000" textLength="25" lengthAdjust="spacingAndGlyphs" >Patient 5</text>
<text x="245.5" y="280.5" font-size="7.6" text-anchor="middle" font-weight="bold" fill="#000" textLength="54.3" lengthAdjust="spacingAndGlyphs" >Days after transplant</text>
<text x="183.8" y="213.5" font-size="7" text-anchor="middle" font-weight="bold" fill="#000" textLength="12.6" lengthAdjust="spacingAndGlyphs" transform="rotate(-90 183.8 213.5)" >O.D</text>
<text x="304.1" y="214.2" font-size="5.7" text-anchor="middle" font-weight="bold" fill="#000" textLength="59.2" lengthAdjust="spacingAndGlyphs" transform="rotate(90 304.1 214.2)" >Total IgG (mg/dl)</text>
<line x1="315.4" y1="187.2" x2="322.9" y2="187.2" stroke="#111" stroke-width="1.3" stroke-linecap="butt"/>
<circle cx="319.4" cy="187.2" r="1.45" fill="none" stroke="#1a1a1a" stroke-width="1.5"/>
<text x="326" y="189.8" font-size="7.8" text-anchor="start" font-weight="normal" fill="#000" textLength="20.6" lengthAdjust="spacingAndGlyphs" >CHAF1b</text>
<line x1="315.4" y1="196.9" x2="322.9" y2="196.9" stroke="#111" stroke-width="1.3" stroke-linecap="butt"/>
<polygon points="319.4,194.82 321.47999999999996,196.9 319.4,198.98000000000002 317.32,196.9" fill="#1a1a1a"/>
<text x="326" y="199.5" font-size="7.8" text-anchor="start" font-weight="normal" fill="#000" textLength="19.8" lengthAdjust="spacingAndGlyphs" >NuSAP1</text>
<line x1="315.4" y1="207.7" x2="322.9" y2="207.7" stroke="#111" stroke-width="1.3" stroke-linecap="butt" stroke-dasharray="1.2 0.9"/>
<rect x="317.79999999999995" y="206.1" width="3.2" height="3.2" fill="#1a1a1a"/>
<text x="326" y="210.3" font-size="7.8" text-anchor="start" font-weight="normal" fill="#000" textLength="22.3" lengthAdjust="spacingAndGlyphs" >Total IgG</text>
<polyline points="203.4,196.5 228.5,201.5 236.9,184.4 254.1,184.8 276.8,197" fill="none" stroke="#1a1a1a" stroke-width="1.8" stroke-linejoin="miter"/>
<circle cx="203.4" cy="196.5" r="1.45" fill="none" stroke="#1a1a1a" stroke-width="1.5"/>
<circle cx="228.5" cy="201.5" r="1.45" fill="none" stroke="#1a1a1a" stroke-width="1.5"/>
<circle cx="236.9" cy="184.4" r="1.45" fill="none" stroke="#1a1a1a" stroke-width="1.5"/>
<circle cx="254.1" cy="184.8" r="1.45" fill="none" stroke="#1a1a1a" stroke-width="1.5"/>
<circle cx="276.8" cy="197" r="1.45" fill="none" stroke="#1a1a1a" stroke-width="1.5"/>
<polyline points="203.4,245.6 228.3,237.8 237.3,246.2 253.9,246.5 277.1,237.3" fill="none" stroke="#1a1a1a" stroke-width="1.8" stroke-linejoin="miter"/>
<circle cx="203.4" cy="245.6" r="1.5" fill="#1a1a1a"/>
<circle cx="228.3" cy="237.8" r="1.5" fill="#1a1a1a"/>
<circle cx="237.3" cy="246.2" r="1.5" fill="#1a1a1a"/>
<circle cx="253.9" cy="246.5" r="1.5" fill="#1a1a1a"/>
<circle cx="277.1" cy="237.3" r="1.5" fill="#1a1a1a"/>
<polyline points="203.6,207.8 228.5,186.9 237.3,219.9 253.7,239 277.1,215.2" fill="none" stroke="#1a1a1a" stroke-width="1.7" stroke-linejoin="miter" stroke-dasharray="2 1.2"/>
<rect x="202.2" y="206.4" width="2.8" height="2.8" fill="#1a1a1a"/>
<rect x="227.1" y="185.5" width="2.8" height="2.8" fill="#1a1a1a"/>
<rect x="235.9" y="218.5" width="2.8" height="2.8" fill="#1a1a1a"/>
<rect x="252.29999999999998" y="237.6" width="2.8" height="2.8" fill="#1a1a1a"/>
<rect x="275.70000000000005" y="213.79999999999998" width="2.8" height="2.8" fill="#1a1a1a"/>
<line x1="365.3" y1="159.8" x2="365.3" y2="258.8" stroke="#111" stroke-width="1.25" stroke-linecap="butt"/>
<line x1="362.7" y1="257.6" x2="365.3" y2="257.6" stroke="#111" stroke-width="1.1" stroke-linecap="butt"/>
<text x="362.5" y="259.8" font-size="6.6" text-anchor="end" font-weight="bold" fill="#000" textLength="6.2" lengthAdjust="spacingAndGlyphs" >0.0</text>
<line x1="362.7" y1="225.23" x2="365.3" y2="225.23" stroke="#111" stroke-width="1.1" stroke-linecap="butt"/>
<text x="362.5" y="227.43" font-size="6.6" text-anchor="end" font-weight="bold" fill="#000" textLength="6.2" lengthAdjust="spacingAndGlyphs" >0.1</text>
<line x1="362.7" y1="192.87" x2="365.3" y2="192.87" stroke="#111" stroke-width="1.1" stroke-linecap="butt"/>
<text x="362.5" y="195.07" font-size="6.6" text-anchor="end" font-weight="bold" fill="#000" textLength="6.2" lengthAdjust="spacingAndGlyphs" >0.2</text>
<line x1="362.7" y1="160.5" x2="365.3" y2="160.5" stroke="#111" stroke-width="1.1" stroke-linecap="butt"/>
<text x="362.5" y="162.7" font-size="6.6" text-anchor="end" font-weight="bold" fill="#000" textLength="6.2" lengthAdjust="spacingAndGlyphs" >0.3</text>
<line x1="364.7" y1="257.6" x2="460.6" y2="257.6" stroke="#111" stroke-width="1.25" stroke-linecap="butt"/>
<line x1="365.4" y1="257.6" x2="365.4" y2="261.0" stroke="#111" stroke-width="1.1" stroke-linecap="butt"/>
<text x="365.4" y="266.8" font-size="6.6" text-anchor="middle" font-weight="bold" fill="#000" textLength="2.45" lengthAdjust="spacingAndGlyphs" >0</text>
<line x1="384.38" y1="257.6" x2="384.38" y2="261.0" stroke="#111" stroke-width="1.1" stroke-linecap="butt"/>
<text x="384.38" y="266.8" font-size="6.6" text-anchor="middle" font-weight="bold" fill="#000" textLength="7.35" lengthAdjust="spacingAndGlyphs" >100</text>
<line x1="403.36" y1="257.6" x2="403.36" y2="261.0" stroke="#111" stroke-width="1.1" stroke-linecap="butt"/>
<text x="403.36" y="266.8" font-size="6.6" text-anchor="middle" font-weight="bold" fill="#000" textLength="7.35" lengthAdjust="spacingAndGlyphs" >200</text>
<line x1="422.34" y1="257.6" x2="422.34" y2="261.0" stroke="#111" stroke-width="1.1" stroke-linecap="butt"/>
<text x="422.34" y="266.8" font-size="6.6" text-anchor="middle" font-weight="bold" fill="#000" textLength="7.35" lengthAdjust="spacingAndGlyphs" >300</text>
<line x1="441.32" y1="257.6" x2="441.32" y2="261.0" stroke="#111" stroke-width="1.1" stroke-linecap="butt"/>
<text x="441.32" y="266.8" font-size="6.6" text-anchor="middle" font-weight="bold" fill="#000" textLength="7.35" lengthAdjust="spacingAndGlyphs" >400</text>
<line x1="460.3" y1="257.6" x2="460.3" y2="261.0" stroke="#111" stroke-width="1.1" stroke-linecap="butt"/>
<text x="460.3" y="266.8" font-size="6.6" text-anchor="middle" font-weight="bold" fill="#000" textLength="7.35" lengthAdjust="spacingAndGlyphs" >500</text>
<line x1="460" y1="159.8" x2="460" y2="258.2" stroke="#111" stroke-width="1.25" stroke-linecap="butt"/>
<line x1="460" y1="257.6" x2="462.2" y2="257.6" stroke="#111" stroke-width="1.1" stroke-linecap="butt"/>
<text x="462.3" y="259.8" font-size="6.6" text-anchor="start" font-weight="bold" fill="#000" textLength="2.45" lengthAdjust="spacingAndGlyphs" >0</text>
<line x1="460" y1="233.28" x2="462.2" y2="233.28" stroke="#111" stroke-width="1.1" stroke-linecap="butt"/>
<text x="462.3" y="235.48" font-size="6.6" text-anchor="start" font-weight="bold" fill="#000" textLength="7.35" lengthAdjust="spacingAndGlyphs" >500</text>
<line x1="460" y1="208.95" x2="462.2" y2="208.95" stroke="#111" stroke-width="1.1" stroke-linecap="butt"/>
<text x="462.3" y="211.15" font-size="6.6" text-anchor="start" font-weight="bold" fill="#000" textLength="9.8" lengthAdjust="spacingAndGlyphs" >1000</text>
<line x1="460" y1="184.62" x2="462.2" y2="184.62" stroke="#111" stroke-width="1.1" stroke-linecap="butt"/>
<text x="462.3" y="186.82" font-size="6.6" text-anchor="start" font-weight="bold" fill="#000" textLength="9.8" lengthAdjust="spacingAndGlyphs" >1500</text>
<line x1="460" y1="160.3" x2="462.2" y2="160.3" stroke="#111" stroke-width="1.1" stroke-linecap="butt"/>
<text x="462.3" y="162.5" font-size="6.6" text-anchor="start" font-weight="bold" fill="#000" textLength="9.8" lengthAdjust="spacingAndGlyphs" >2000</text>
<line x1="396.5" y1="168.2" x2="394.9" y2="264.7" stroke="#1a1a1a" stroke-width="1.25" stroke-linecap="butt" stroke-dasharray="1.1 1"/>
<text x="414.6" y="149" font-size="8.2" text-anchor="middle" font-weight="bold" fill="#000" textLength="24.4" lengthAdjust="spacingAndGlyphs" >Patient 6</text>
<text x="414.7" y="280.5" font-size="7.6" text-anchor="middle" font-weight="bold" fill="#000" textLength="55" lengthAdjust="spacingAndGlyphs" >Days after transplant</text>
<text x="354.7" y="209.2" font-size="7" text-anchor="middle" font-weight="bold" fill="#000" textLength="12.6" lengthAdjust="spacingAndGlyphs" transform="rotate(-90 354.7 209.2)" >O.D</text>
<text x="477.9" y="209.25" font-size="5.7" text-anchor="middle" font-weight="bold" fill="#000" textLength="63.7" lengthAdjust="spacingAndGlyphs" transform="rotate(90 477.9 209.25)" >Total IgG (mg/dl)</text>
<line x1="488.6" y1="175" x2="496.1" y2="175" stroke="#111" stroke-width="1.3" stroke-linecap="butt"/>
<circle cx="492.59999999999997" cy="175" r="1.45" fill="none" stroke="#1a1a1a" stroke-width="1.5"/>
<text x="499.5" y="177.6" font-size="7.8" text-anchor="start" font-weight="normal" fill="#000" textLength="20.6" lengthAdjust="spacingAndGlyphs" >CHAF1b</text>
<line x1="488.6" y1="185.8" x2="496.1" y2="185.8" stroke="#111" stroke-width="1.3" stroke-linecap="butt"/>
<polygon points="492.59999999999997,183.72 494.67999999999995,185.8 492.59999999999997,187.88000000000002 490.52,185.8" fill="#1a1a1a"/>
<text x="499.5" y="188.4" font-size="7.8" text-anchor="start" font-weight="normal" fill="#000" textLength="19.8" lengthAdjust="spacingAndGlyphs" >NuSAP1</text>
<line x1="488.6" y1="196.4" x2="496.1" y2="196.4" stroke="#111" stroke-width="1.3" stroke-linecap="butt" stroke-dasharray="1.2 0.9"/>
<rect x="490.99999999999994" y="194.8" width="3.2" height="3.2" fill="#1a1a1a"/>
<text x="499.5" y="199.0" font-size="7.8" text-anchor="start" font-weight="normal" fill="#000" textLength="22.3" lengthAdjust="spacingAndGlyphs" >Total IgG</text>
<polyline points="382.6,236.6 395.2,206.4 400,211.6 415.9,220 433.2,218.3 448.5,197.5" fill="none" stroke="#2a2a2a" stroke-width="1.9" stroke-linejoin="miter"/>
<circle cx="382.6" cy="236.6" r="1.45" fill="none" stroke="#1a1a1a" stroke-width="1.5"/>
<circle cx="395.2" cy="206.4" r="1.45" fill="none" stroke="#1a1a1a" stroke-width="1.5"/>
<circle cx="400" cy="211.6" r="1.45" fill="none" stroke="#1a1a1a" stroke-width="1.5"/>
<circle cx="415.9" cy="220" r="1.45" fill="none" stroke="#1a1a1a" stroke-width="1.5"/>
<circle cx="433.2" cy="218.3" r="1.45" fill="none" stroke="#1a1a1a" stroke-width="1.5"/>
<circle cx="448.5" cy="197.5" r="1.45" fill="none" stroke="#1a1a1a" stroke-width="1.5"/>
<polyline points="382.6,239.5 395.2,222.8 400,212 415.9,219.6 433.2,223.5 448.5,199.8" fill="none" stroke="#2a2a2a" stroke-width="1.9" stroke-linejoin="miter"/>
<circle cx="382.6" cy="239.5" r="1.6" fill="#1a1a1a"/>
<circle cx="395.2" cy="222.8" r="1.6" fill="#1a1a1a"/>
<circle cx="415.9" cy="219.6" r="1.6" fill="#1a1a1a"/>
<circle cx="433.2" cy="223.5" r="1.6" fill="#1a1a1a"/>
<circle cx="448.5" cy="199.8" r="1.6" fill="#1a1a1a"/>
<polyline points="381.8,224 399.4,222.6 415.9,250.8 433.2,229.4 448.6,173" fill="none" stroke="#1a1a1a" stroke-width="1.7" stroke-linejoin="miter" stroke-dasharray="2 1.2"/>
<rect x="380.40000000000003" y="222.6" width="2.8" height="2.8" fill="#1a1a1a"/>
<rect x="398.0" y="221.2" width="2.8" height="2.8" fill="#1a1a1a"/>
<rect x="414.5" y="249.4" width="2.8" height="2.8" fill="#1a1a1a"/>
<rect x="431.8" y="228.0" width="2.8" height="2.8" fill="#1a1a1a"/>
<rect x="447.20000000000005" y="171.6" width="2.8" height="2.8" fill="#1a1a1a"/>
</svg></body></html>
